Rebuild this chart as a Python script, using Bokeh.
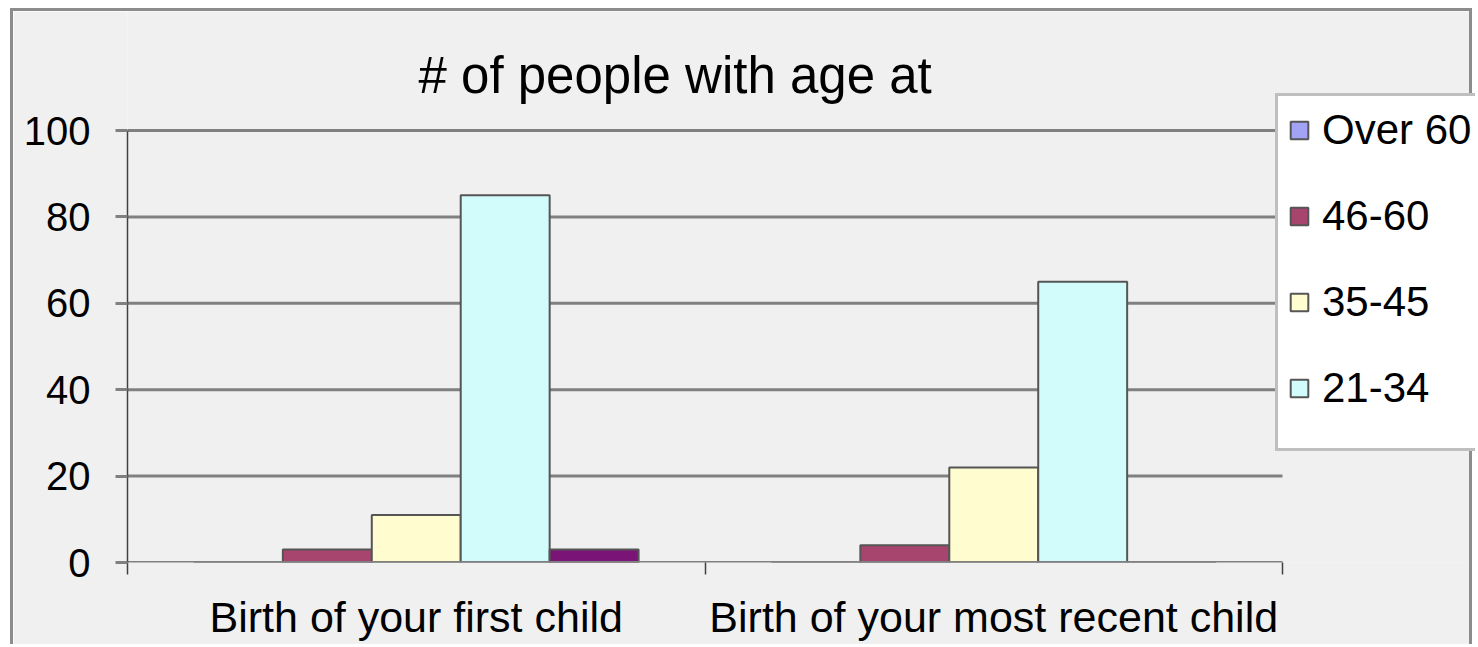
from bokeh.plotting import figure
from bokeh.models import Range1d, FixedTicker, Legend, LegendItem, Label
from bokeh.embed import file_html
from bokeh.resources import INLINE

# ---- data ----
categories = ["Birth of your first child", "Birth of your most recent child"]
series_names = ["Over 60", "46-60", "35-45", "21-34", "Under 21"]
over_60 = [0, 0]
age_46_60 = [3, 4]
age_35_45 = [11, 22]
age_21_34 = [85, 65]
under_21 = [3, 0]
series_values = [over_60, age_46_60, age_35_45, age_21_34, under_21]
series_colors = ["#A3A3F5", "#A8456F", "#FFFDD0", "#D2FCFC", "#7A1577"]
in_legend = [True, True, True, True, False]
y_ticks = [0, 20, 40, 60, 80, 100]
title_text = "# of people with age at"

FONT = "Liberation Sans"
W, H = 1462, 636
n = len(categories)
y_max = y_ticks[-1]
# frame: left 114, right = canvas right, top = canvas top, bottom 551; value axis 0..100 spans 551..119
frame_bottom, val_top = 551, 119
x_end = n * (W - 114) / (1269 - 114)
y_end = y_max * frame_bottom / (frame_bottom - val_top)
p = figure(width=W, height=H, x_range=Range1d(0, x_end), y_range=Range1d(0, y_end),
           output_backend="svg", toolbar_location=None,
           min_border_left=114, min_border_right=0, min_border_top=0, min_border_bottom=H - frame_bottom,
           styles={"margin-left": "10px", "margin-top": "8px",
                   "border-left": "3px solid #8C8C8C", "border-top": "3px solid #8C8C8C",
                   "border-right": "3px solid #8C8C8C"})
p.title = None
p.background_fill_color = "#F0F0F0"
p.border_fill_color = "#F0F0F0"
p.outline_line_color = None

# title as a label
p.add_layout(Label(x=291, y=frame_bottom - 64, x_units="screen", y_units="screen",
                   text=title_text, text_font=FONT, text_font_size="51px",
                   text_color="#000000", text_align="left", text_baseline="middle"))

# grid lines (limited to the category area), drawn behind the bars
p.xgrid.grid_line_color = None
p.ygrid.grid_line_color = None
upper = y_ticks[1:]
p.segment(x0=[0] * len(upper), x1=[n] * len(upper), y0=upper, y1=upper,
          line_color="#808080", line_width=3)

# y axis
yax = p.yaxis[0]
yax.ticker = FixedTicker(ticks=y_ticks)
yax.bounds = (0, y_max)
yax.axis_line_color = "#404040"
yax.axis_line_width = 1.5
yax.major_tick_line_color = "#808080"
yax.major_tick_line_width = 3
yax.major_tick_out = 12
yax.major_tick_in = 0
yax.minor_tick_line_color = None
yax.major_label_text_font = FONT
yax.major_label_text_font_size = "40px"
yax.major_label_text_color = "#000000"
yax.major_label_standoff = 25

# x axis
xax = p.xaxis[0]
xax.ticker = FixedTicker(ticks=[j + 0.5 for j in range(n)], minor_ticks=list(range(n + 1)))
xax.major_label_overrides = {j + 0.5: c for j, c in enumerate(categories)}
xax.major_tick_line_color = None
xax.major_tick_out = 12
xax.major_tick_in = 0
xax.minor_tick_out = 12
xax.minor_tick_in = 0
xax.minor_tick_line_color = "#404040"
xax.minor_tick_line_width = 1.5
xax.axis_line_color = None
xax.major_label_text_font = FONT
xax.major_label_text_font_size = "43px"
xax.major_label_text_color = "#000000"
xax.major_label_standoff = 18

# bars
bw = 0.154
k = len(series_names)
items = []
for i, (name, vals, col) in enumerate(zip(series_names, series_values, series_colors)):
    xs = [j + 0.5 + (i - (k - 1) / 2) * bw for j in range(n)]
    r = p.vbar(x=xs, top=vals, width=bw, bottom=0, fill_color=col,
               line_color="#555555", line_width=2)
    if in_legend[i]:
        items.append(LegendItem(label=name, renderers=[r]))

# category-axis baseline drawn over the bar bottoms
base = y_ticks[:1]
p.segment(x0=[0], x1=[n], y0=base, y1=base, line_color="#808080", line_width=3)

legend = Legend(items=items, location=(1148, 111), orientation="vertical",
                background_fill_color="#FFFFFF", background_fill_alpha=1.0,
                border_line_color="#808080", border_line_width=3,
                label_text_font=FONT, label_text_font_size="42px", label_text_color="#000000",
                glyph_width=22, glyph_height=22, label_standoff=12,
                spacing=38, padding=10, margin=0,
                title=" ", title_location="below", title_text_font_size="16px", title_standoff=8)
p.add_layout(legend)

open("out.html", "w").write(file_html(p, INLINE))
